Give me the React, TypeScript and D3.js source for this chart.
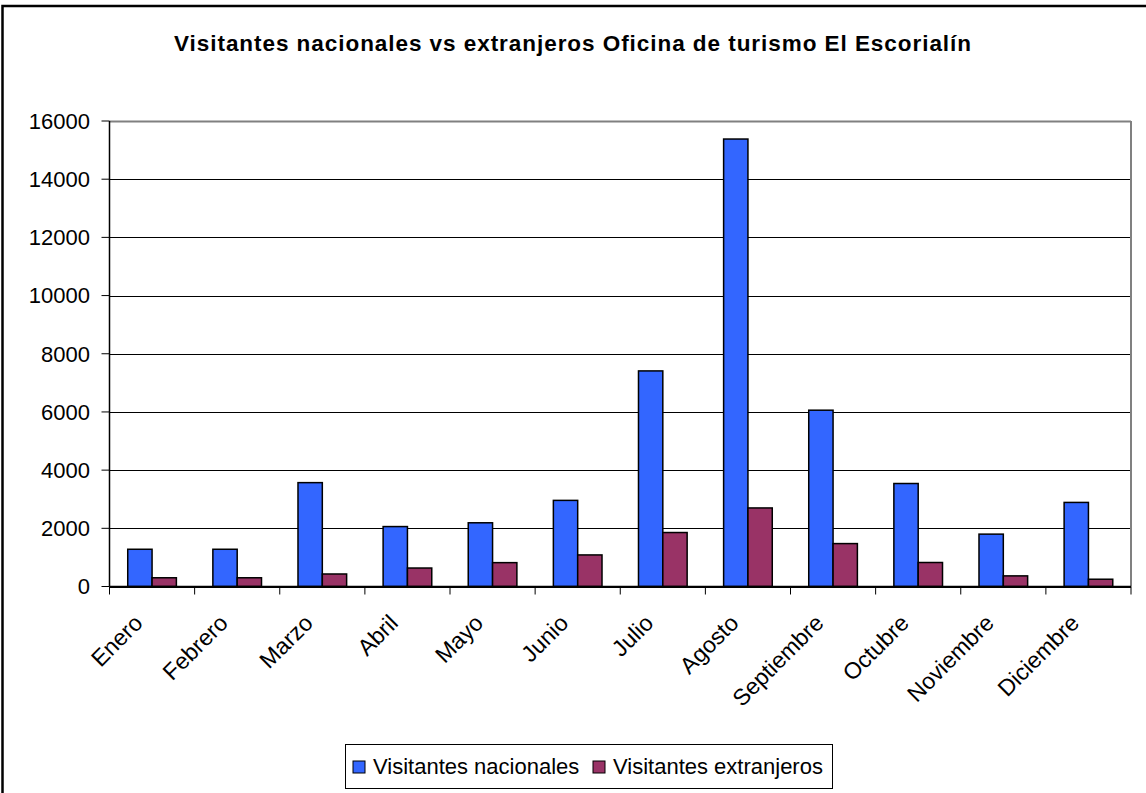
import React from "react";
import * as d3 from "d3";

const months = ["Enero","Febrero","Marzo","Abril","Mayo","Junio","Julio","Agosto","Septiembre","Octubre","Noviembre","Diciembre"];
const nacionales = [1280, 1280, 3570, 2060, 2190, 2960, 7410, 15380, 6060, 3540, 1800, 2890];
const extranjeros = [300, 300, 430, 635, 820, 1085, 1855, 2700, 1475, 825, 365, 250];
const yTicks = [0, 2000, 4000, 6000, 8000, 10000, 12000, 14000, 16000];
const seriesNames = ["Visitantes nacionales", "Visitantes extranjeros"];
const colors = ["#3366FF", "#993366"];
const title = "Visitantes nacionales vs extranjeros Oficina de turismo El Escorialín";

export default function App() {
  const W = 1146, H = 793;
  const left = 109.5, right = 1131, top = 121, bottom = 586.5;
  const x = d3.scaleBand<string>().domain(months).range([left, right]).paddingInner(0).paddingOuter(0);
  const y = d3.scaleLinear().domain([0, 16000]).range([bottom, top]);
  const bw = x.bandwidth() / 3.5;
  const off = x.bandwidth() * 0.75 / 3.5;
  const font = "Arial, 'Liberation Sans', sans-serif";
  const series = [nacionales, extranjeros];
  return (
    <svg width={W} height={H} style={{ position: "absolute", left: 0, top: 0, background: "#fff" }} fontFamily={font}>
      <rect x={2.5} y={6} width={W + 10} height={H + 10} fill="#fff" stroke="#000" strokeWidth={2.5} />
      <text x={573} y={51} textAnchor="middle" fontWeight="bold" fontSize={22.5} letterSpacing={0.95}>{title}</text>
      {/* gridlines */}
      {yTicks.map((t) => (
        <line key={"g" + t} x1={left} x2={right} y1={Math.round(y(t)) + 0.5} y2={Math.round(y(t)) + 0.5}
          stroke={t === 16000 ? "#808080" : "#000"} strokeWidth={t === 16000 ? 2 : 1} />
      ))}
      <line x1={right} x2={right} y1={top} y2={bottom} stroke="#808080" strokeWidth={2} />
      {/* bars */}
      {series.map((vals, si) =>
        vals.map((v, i) => (
          <rect key={si + "-" + i}
            x={(x(months[i]) as number) + off + si * bw}
            y={y(v)} width={bw} height={y(0) - y(v)}
            fill={colors[si]} stroke="#000" strokeWidth={1.5} />
        ))
      )}
      {/* axes */}
      <line x1={left} x2={left} y1={top} y2={bottom} stroke="#000" strokeWidth={1.5} />
      <line x1={left} x2={right} y1={bottom} y2={bottom} stroke="#000" strokeWidth={1.5} />
      {yTicks.map((t) => (
        <g key={"t" + t}>
          <line x1={left - 8} x2={left} y1={y(t)} y2={y(t)} stroke="#000" strokeWidth={1} />
          <text x={90} y={y(t)} dy="0.36em" textAnchor="end" fontSize={22}>{t}</text>
        </g>
      ))}
      {months.concat(["end"]).map((m, i) => {
        const xx = left + i * x.step();
        return <line key={"xt" + i} x1={xx} x2={xx} y1={bottom} y2={bottom + 8} stroke="#000" strokeWidth={1} />;
      })}
      {months.map((m) => {
        const cx = (x(m) as number) + x.bandwidth() / 2;
        return (
          <text key={m} transform={`translate(${cx - 8},${bottom + 38}) rotate(-45)`} textAnchor="end" fontSize={23}>{m}</text>
        );
      })}
      {/* legend */}
      <rect x={345.5} y={744.5} width={487} height={44} fill="#fff" stroke="#000" strokeWidth={1} />
      {seriesNames.map((n, i) => {
        const lx = i === 0 ? 353 : 593;
        return (
          <g key={n}>
            <rect x={lx} y={761} width={12} height={12} fill={colors[i]} stroke="#000" strokeWidth={1} />
            <text x={lx + 20} y={774} fontSize={22}>{n}</text>
          </g>
        );
      })}
    </svg>
  );
}
